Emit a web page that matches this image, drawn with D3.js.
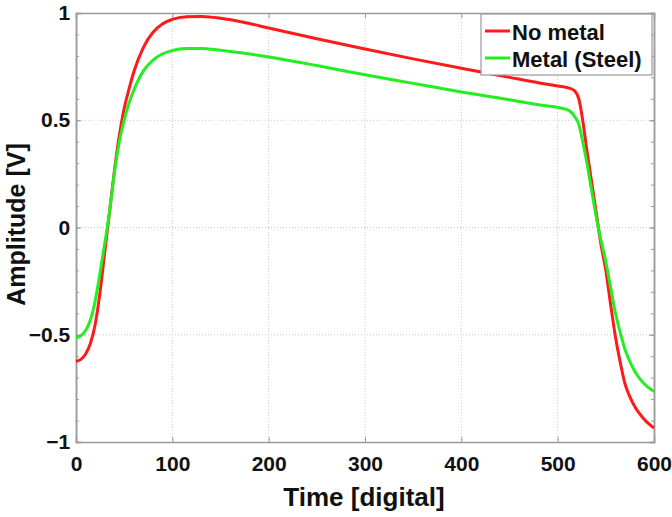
<!DOCTYPE html>
<html>
<head>
<meta charset="utf-8">
<script src="https://cdn.jsdelivr.net/npm/d3@7"></script>
<style>
  body { margin: 0; background: #fff; }
  svg text { font-family: Arial, "Liberation Sans", sans-serif; font-weight: bold; fill: #111; }
</style>
</head>
<body>
<svg id="chart" width="672" height="517"></svg>
<script>
// ---- data ----
const seriesNames = ["No metal", "Metal (Steel)"];
const seriesColors = ["#ff1a1a", "#22ee22"];

const timeRed = [0,5,10,15,20,25,30,35,40,45,50,55,60,70,80,90,100,115,130,150,175,200,250,300,350,400,450,480,500,512,518,522,526,530,535,540,545,550,555,560,565,570,575,580,590,600];
const ampRed  = [-0.625,-0.615,-0.59,-0.54,-0.45,-0.30,-0.11,0.08,0.27,0.43,0.555,0.645,0.725,0.84,0.91,0.95,0.97,0.982,0.984,0.976,0.956,0.93,0.88,0.832,0.786,0.742,0.70,0.675,0.66,0.65,0.635,0.60,0.50,0.37,0.22,0.07,-0.08,-0.20,-0.36,-0.51,-0.63,-0.73,-0.79,-0.835,-0.895,-0.935];

const timeGreen = [0,5,10,15,20,25,30,35,40,45,50,55,60,70,80,90,100,115,130,150,175,200,250,300,350,400,450,480,500,512,518,522,526,530,535,540,545,550,555,560,565,570,575,580,590,600];
const ampGreen  = [-0.515,-0.505,-0.48,-0.43,-0.34,-0.21,-0.07,0.08,0.26,0.40,0.50,0.58,0.64,0.73,0.78,0.81,0.825,0.834,0.835,0.826,0.812,0.795,0.755,0.712,0.672,0.632,0.596,0.572,0.56,0.545,0.515,0.48,0.40,0.31,0.18,0.05,-0.06,-0.16,-0.28,-0.40,-0.49,-0.57,-0.625,-0.67,-0.73,-0.765];

const xTicks = [0,100,200,300,400,500,600];
const yTicks = [-1,-0.5,0,0.5,1];
const yMinorTicks = d3.range(-10, 11).map(d => d / 10);
const xLabel = "Time [digital]";
const yLabel = "Amplitude [V]";

// ---- layout ----
const svg = d3.select("#chart");
const L = 76, R = 654, T = 13, B = 442;
const x = d3.scaleLinear().domain([0, 600]).range([L, R]);
const y = d3.scaleLinear().domain([-1, 1]).range([B, T]);
const axisColor = "#9a9a9a";

// grid (dotted)
const grid = svg.append("g");
grid.selectAll("line.gx").data(xTicks.slice(1, -1)).join("line")
  .attr("x1", d => x(d)).attr("x2", d => x(d)).attr("y1", T).attr("y2", B)
  .attr("stroke", "#c8c8c8").attr("stroke-width", 1).attr("stroke-dasharray", "1,2");
grid.selectAll("line.gy").data(yTicks.slice(1, -1)).join("line")
  .attr("x1", L).attr("x2", R).attr("y1", d => y(d)).attr("y2", d => y(d))
  .attr("stroke", "#c8c8c8").attr("stroke-width", 1).attr("stroke-dasharray", "1,2");

// axes with inward ticks
const axB = svg.append("g").attr("transform", `translate(0,${B})`)
  .call(d3.axisBottom(x).tickValues(xTicks).tickSize(-5).tickPadding(14).tickFormat(d3.format("d")));
const axT = svg.append("g").attr("transform", `translate(0,${T})`)
  .call(d3.axisTop(x).tickValues(xTicks).tickSize(-5).tickFormat(""));
const axL = svg.append("g").attr("transform", `translate(${L},0)`)
  .call(d3.axisLeft(y).tickValues(yTicks).tickSize(-5).tickPadding(9).tickFormat(d => d3.format("")(d)));
const axR = svg.append("g").attr("transform", `translate(${R},0)`)
  .call(d3.axisRight(y).tickValues(yTicks).tickSize(-5).tickFormat(""));
const axLm = svg.append("g").attr("transform", `translate(${L},0)`)
  .call(d3.axisLeft(y).tickValues(yMinorTicks).tickSize(-3).tickFormat(""));
const axRm = svg.append("g").attr("transform", `translate(${R},0)`)
  .call(d3.axisRight(y).tickValues(yMinorTicks).tickSize(-3).tickFormat(""));

[axB, axT, axL, axR, axLm, axRm].forEach(g => {
  g.selectAll(".domain").attr("stroke", axisColor).attr("stroke-width", 1.5);
  g.selectAll(".tick line").attr("stroke", axisColor);
  g.selectAll("text").attr("font-size", 21).attr("fill", "#111")
    .attr("font-family", "Arial, 'Liberation Sans', sans-serif").attr("font-weight", "bold");
});
axL.selectAll("text").attr("dx", "0.15em");

// lines
const line = d3.line().x(d => x(d[0])).y(d => y(d[1])).curve(d3.curveMonotoneX);
const redData = d3.zip(timeRed, ampRed);
const greenData = d3.zip(timeGreen, ampGreen);
svg.append("path").datum(redData).attr("d", line)
  .attr("fill", "none").attr("stroke", seriesColors[0]).attr("stroke-width", 3);
svg.append("path").datum(greenData).attr("d", line)
  .attr("fill", "none").attr("stroke", seriesColors[1]).attr("stroke-width", 3);

// axis labels
svg.append("text").attr("x", (L + R) / 2 - 1).attr("y", 506).attr("text-anchor", "middle")
  .attr("font-size", 26).text(xLabel);
svg.append("text").attr("transform", `translate(25,${(T + B) / 2 - 3}) rotate(-90)`)
  .attr("text-anchor", "middle").attr("font-size", 25).text(yLabel);

// legend
const lg = svg.append("g");
lg.append("rect").attr("x", 481).attr("y", 14).attr("width", 171).attr("height", 61)
  .attr("fill", "#fff").attr("stroke", axisColor).attr("stroke-width", 1.2);
seriesNames.forEach((name, i) => {
  const yy = 31 + i * 27;
  lg.append("line").attr("x1", 485).attr("x2", 510).attr("y1", yy).attr("y2", yy)
    .attr("stroke", seriesColors[i]).attr("stroke-width", 3);
  lg.append("text").attr("x", 512).attr("y", yy + 9).attr("font-size", 22).text(name);
});
</script>
</body>
</html>
